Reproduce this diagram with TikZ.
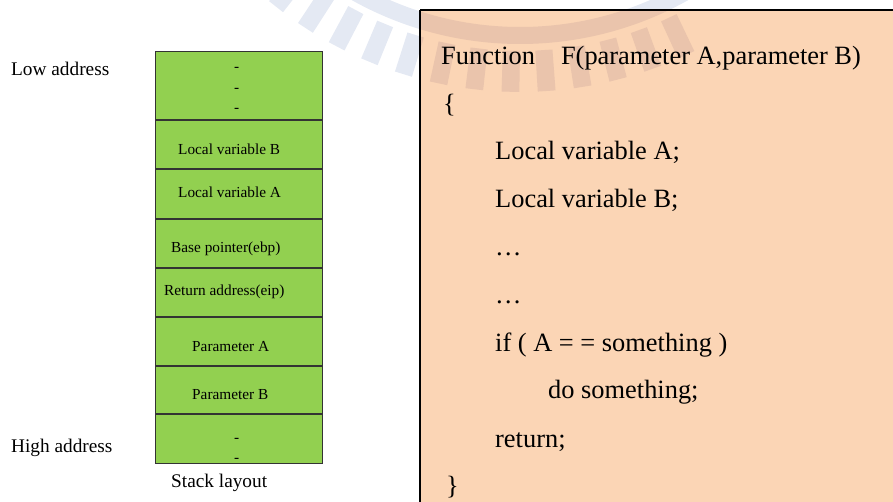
\documentclass[tikz,border=0pt]{standalone}
\usepackage{fontspec}
\setmainfont{Liberation Serif}
\definecolor{stackgreen}{RGB}{146,208,80}
\definecolor{codepeach}{RGB}{251,213,181}
\definecolor{emblemblue}{RGB}{228,233,243}
\definecolor{emblemtan}{RGB}{234,196,172}
\tikzset{
  celltext/.style={inner sep=0pt, anchor=base west, font=\fontsize{15.3}{18}\selectfont},
  sidelabel/.style={inner sep=0pt, anchor=base west, font=\fontsize{19.3}{23}\selectfont},
  codeline/.style={inner sep=0pt, anchor=base west, font=\fontsize{26.4}{30}\selectfont},
  divider/.style={draw=black!80, line width=1.1pt},
  % faint emblem: ring band plus teeth, centred above the page
  emblem/.pic={
    \fill (135:327) arc[start angle=135, end angle=52, radius=327]
          -- (52:344) arc[start angle=52, end angle=135, radius=344] -- cycle;
    \foreach \t in {128.5,123.2,...,62} {
      \fill (\t+1.4:351) -- (\t+1.3:392) -- (\t-1.3:392) -- (\t-1.4:351) -- cycle;
    }
  }
}
\begin{document}
\begin{tikzpicture}[x=1pt, y=-1pt]
\useasboundingbox (0,0) rectangle (893,501);
\clip (0,0) rectangle (893,501);

% emblem on the white page
\begin{scope}
  \clip (0,0) rectangle (420,501);
  \pic[fill=emblemblue] at (520,-300) {emblem};
\end{scope}

% code panel background, with the emblem showing through it
\fill[codepeach] (420,10) rectangle (900,510);
\begin{scope}
  \clip (420,10) rectangle (900,510);
  \pic[fill=emblemtan] at (520,-300) {emblem};
\end{scope}
\begin{scope}
  \clip (420,0) rectangle (900,10);
  \pic[fill=emblemblue] at (520,-300) {emblem};
\end{scope}

% code panel border
\draw[black, line width=1.6pt] (420,10) -- (420,510);
\draw[black, line width=1.6pt] (420,10) -- (900,10);

% stack frame
\filldraw[fill=stackgreen, draw=black!80, line width=1pt] (155,51) rectangle (322,463);
\foreach \yy in {120,169,219,268,317,366,414} {
  \draw[divider] (155,\yy) -- (322,\yy);
}

\node[celltext] (d1) at (234,71) {-};
\node[celltext] (d2) at (234,92) {-};
\node[celltext] (d3) at (234,112) {-};
\node[celltext] (lvb) at (178,154) {Local variable B};
\node[celltext] (lva) at (178,197) {Local variable A};
\node[celltext] (ebp) at (171,252) {Base pointer(ebp)};
\node[celltext] (eip) at (164,295) {Return address(eip)};
\node[celltext] (pa) at (192,351) {Parameter A};
\node[celltext] (pb) at (192,399) {Parameter B};
\node[celltext] (d4) at (234,442) {-};
\node[celltext] (d5) at (234,462) {-};

\node[sidelabel] (low) at (11,75) {Low address};
\node[sidelabel] (high) at (11,452) {High address};
\node[sidelabel] (cap) at (171,487) {Stack layout};

% pseudo code
\node[codeline] (l1) at (441,64) {Function\hspace{26pt}F(parameter A,parameter B)};
\node[codeline] (l2) at (443,112) {\{};
\node[codeline] (l3) at (495,159) {Local variable A;};
\node[codeline] (l4) at (495,207) {Local variable B;};
\node[codeline] (l5) at (495,255) {…};
\node[codeline] (l6) at (495,303) {…};
\node[codeline] (l7) at (495,351) {if ( A = = something )};
\node[codeline] (l8) at (548,398) {do something;};
\node[codeline] (l9) at (495,447) {return;};
\node[codeline] (l10) at (446,494) {\}};
\end{tikzpicture}
\end{document}
